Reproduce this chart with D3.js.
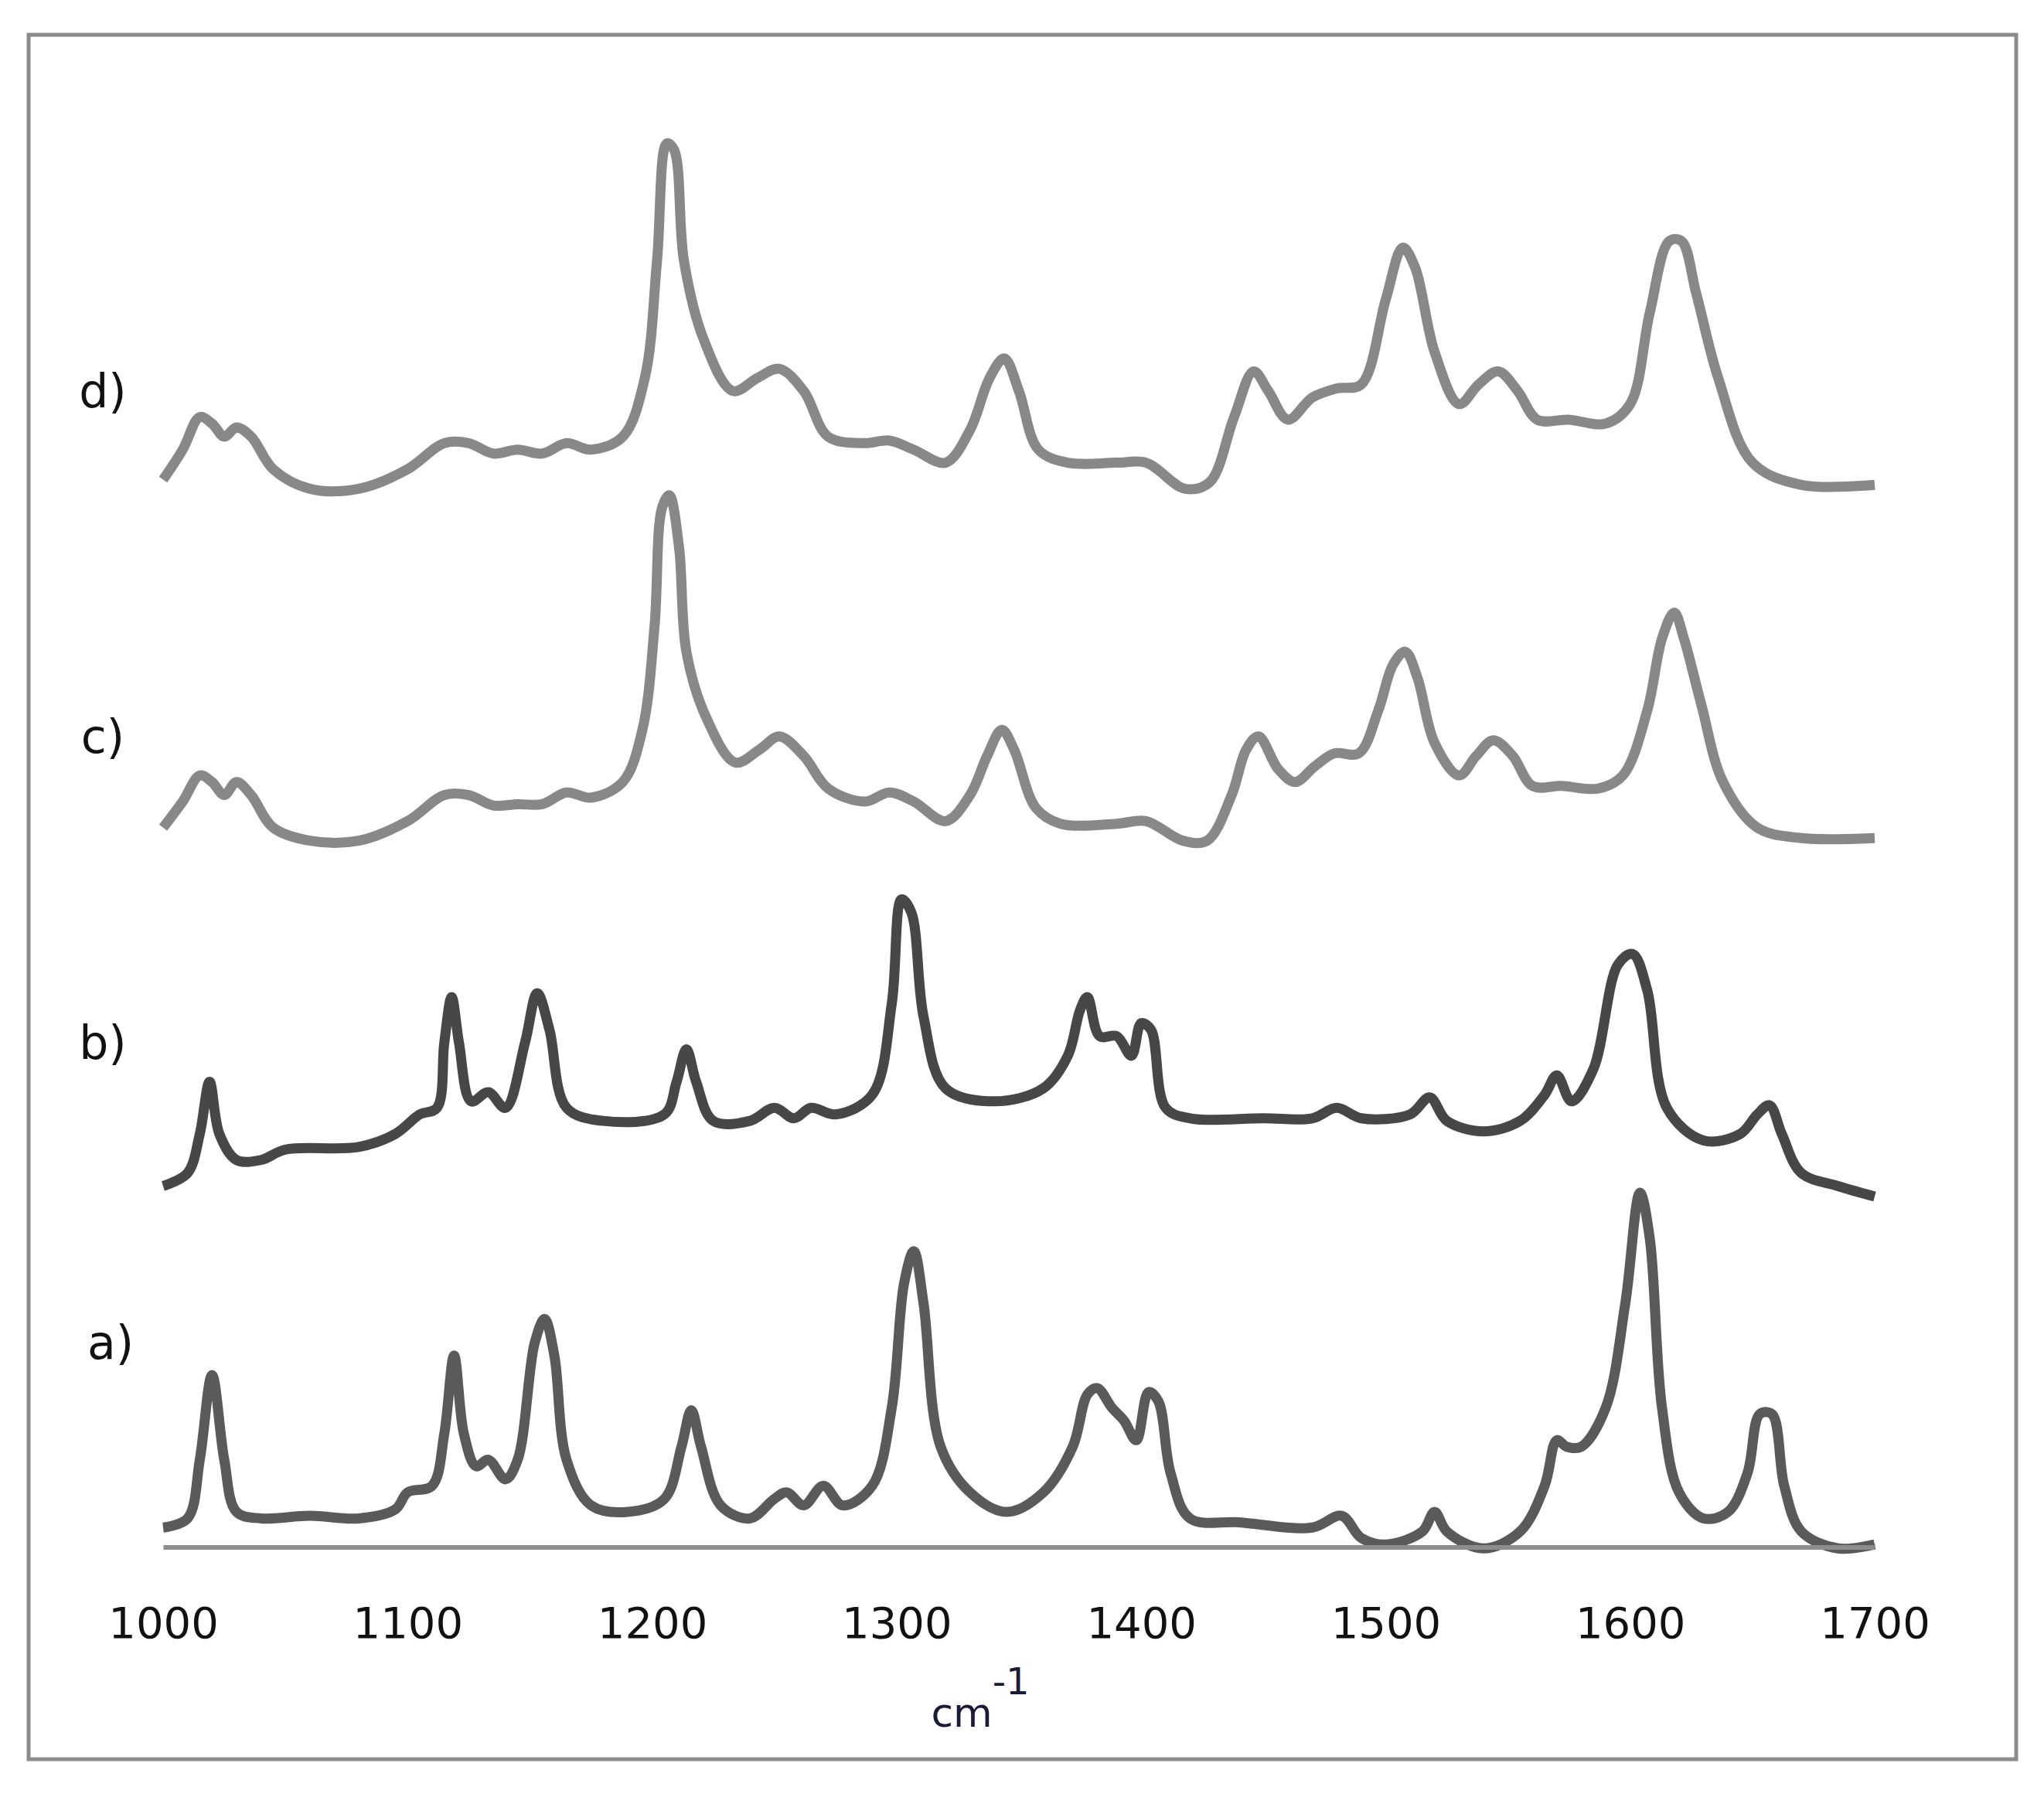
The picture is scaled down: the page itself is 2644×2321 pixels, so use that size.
<!DOCTYPE html>
<html>
<head>
<meta charset="utf-8">
<script src="https://cdn.jsdelivr.net/npm/d3@7"></script>
<style>
  body { margin: 0; background: #fff; }
  svg text { font-family: "DejaVu Sans", sans-serif; }
</style>
</head>
<body>
<svg id="chart" width="2644" height="2321"></svg>
<script>
// readings: [wavenumber, vertical position, 0 = top]
const specA = [[1000,1172],[1010,1165],[1015,1120],[1020,1055],[1025,1120],[1030,1160],[1040,1165],[1060,1163],[1080,1165],[1095,1158],[1100,1145],[1110,1140],[1115,1100],[1119,1040],[1123,1100],[1128,1125],[1133,1120],[1140,1135],[1145,1120],[1152,1030],[1156,1012],[1160,1040],[1165,1120],[1175,1155],[1190,1160],[1205,1150],[1212,1110],[1216,1082],[1220,1110],[1228,1155],[1240,1165],[1250,1150],[1255,1145],[1262,1155],[1270,1140],[1278,1155],[1290,1140],[1298,1080],[1303,985],[1307,960],[1311,1000],[1318,1110],[1330,1145],[1345,1160],[1360,1145],[1372,1110],[1378,1070],[1382,1065],[1388,1080],[1393,1090],[1398,1105],[1403,1068],[1407,1075],[1412,1130],[1420,1165],[1440,1168],[1470,1172],[1482,1163],[1490,1180],[1500,1185],[1515,1175],[1520,1160],[1525,1175],[1540,1188],[1555,1175],[1565,1140],[1570,1105],[1574,1110],[1580,1110],[1590,1080],[1598,1000],[1604,915],[1608,950],[1613,1080],[1620,1145],[1630,1165],[1640,1160],[1648,1130],[1653,1085],[1658,1085],[1663,1140],[1670,1175],[1685,1188],[1700,1185]];
const specB = [[1000,910],[1010,900],[1015,870],[1019,830],[1023,870],[1030,890],[1040,890],[1050,882],[1080,880],[1095,870],[1105,855],[1112,850],[1115,800],[1118,765],[1121,800],[1126,845],[1133,838],[1140,850],[1148,800],[1153,762],[1158,790],[1165,850],[1180,860],[1205,855],[1210,830],[1214,805],[1218,830],[1225,860],[1240,860],[1250,850],[1258,858],[1265,850],[1275,855],[1290,840],[1298,770],[1302,690],[1306,700],[1311,780],[1320,835],[1340,845],[1360,835],[1370,810],[1375,775],[1378,765],[1383,795],[1390,795],[1396,810],[1400,785],[1404,790],[1410,850],[1420,858],[1450,858],[1470,858],[1480,850],[1490,858],[1510,855],[1518,842],[1525,860],[1540,868],[1555,860],[1565,840],[1570,825],[1576,845],[1585,820],[1595,740],[1601,732],[1607,760],[1615,850],[1630,875],[1645,870],[1652,855],[1657,848],[1662,870],[1670,900],[1685,910],[1700,918]];
const specC = [[1000,635],[1008,615],[1015,595],[1020,600],[1025,610],[1030,600],[1036,610],[1045,635],[1060,645],[1080,645],[1100,630],[1115,610],[1125,610],[1135,618],[1145,617],[1155,617],[1165,608],[1175,612],[1188,600],[1196,560],[1201,480],[1204,390],[1207,380],[1211,420],[1214,500],[1222,550],[1234,585],[1244,575],[1252,565],[1262,580],[1272,605],[1287,615],[1297,608],[1307,615],[1320,630],[1330,610],[1337,580],[1343,560],[1348,575],[1357,620],[1367,632],[1390,632],[1402,630],[1417,645],[1427,645],[1437,610],[1443,575],[1448,565],[1456,590],[1463,600],[1471,588],[1479,578],[1489,578],[1497,545],[1503,510],[1508,500],[1513,520],[1520,570],[1530,595],[1537,580],[1544,568],[1552,580],[1560,603],[1572,603],[1587,605],[1597,595],[1607,545],[1613,490],[1618,470],[1622,490],[1629,540],[1638,600],[1652,635],[1670,643],[1700,643]];
const specD = [[1000,368],[1008,345],[1015,320],[1020,325],[1025,335],[1030,328],[1036,335],[1045,360],[1060,375],[1080,375],[1100,360],[1115,340],[1125,340],[1135,348],[1145,345],[1155,348],[1165,340],[1175,345],[1188,335],[1197,290],[1202,200],[1206,110],[1209,115],[1213,200],[1221,260],[1233,300],[1243,290],[1252,283],[1262,300],[1272,335],[1287,340],[1297,338],[1307,345],[1320,355],[1330,330],[1338,290],[1344,275],[1350,300],[1358,345],[1370,355],[1390,355],[1402,355],[1418,375],[1428,370],[1438,320],[1446,285],[1452,300],[1460,322],[1470,305],[1480,298],[1490,295],[1500,230],[1507,190],[1512,205],[1520,270],[1530,310],[1538,295],[1546,285],[1554,300],[1562,322],[1575,322],[1590,325],[1600,310],[1608,240],[1616,185],[1621,185],[1627,225],[1636,290],[1650,355],[1670,372],[1700,372]];

const seriesNames = ["a)", "b)", "c)", "d)"];
const seriesData = [specA, specB, specC, specD];
const seriesColors = ["#5a5a5a", "#474747", "#888888", "#888888"];
const labelPos = [1030, 800, 565, 300]; // label heights, same units as readings
const xTicks = [1000, 1100, 1200, 1300, 1400, 1500, 1600, 1700];

const svg = d3.select("#chart");
const x = d3.scaleLinear().domain([1000, 1700]).range([211, 2425]);
const y = d3.scaleLinear().domain([0, 1380]).range([0, 2327]);

// outer frame
svg.append("rect")
    .attr("x", 37).attr("y", 45)
    .attr("width", 2571).attr("height", 2231)
    .attr("fill", "none").attr("stroke", "#8c8c8c").attr("stroke-width", 5);

const line = d3.line()
    .x(d => x(d[0]))
    .y(d => y(d[1]))
    .curve(d3.curveCatmullRom.alpha(0.5));

svg.selectAll("path.spec")
    .data(seriesData)
    .join("path")
    .attr("class", "spec")
    .attr("d", line)
    .attr("fill", "none")
    .attr("stroke", (d, i) => seriesColors[i])
    .attr("stroke-width", 13)
    .attr("stroke-linejoin", "round");

svg.selectAll("text.lbl")
    .data(seriesNames)
    .join("text")
    .attr("class", "lbl")
    .attr("x", (d, i) => i === 0 ? 143 : 133)
    .attr("y", (d, i) => y(labelPos[i]))
    .attr("dy", "0.35em")
    .attr("text-anchor", "middle")
    .attr("font-size", 60)
    .attr("fill", "#111")
    .text(d => d);

const axis = svg.append("g")
    .attr("transform", `translate(0,${y(1187)})`)
    .call(d3.axisBottom(x).tickValues(xTicks).tickSize(0).tickPadding(78).tickFormat(d3.format("d")));
axis.select(".domain").attr("stroke", "#8c8c8c").attr("stroke-width", 6);
axis.selectAll("text").attr("font-size", 56).attr("fill", "#111")
    .style("font-family", "'DejaVu Sans', sans-serif");

const unit = svg.append("text")
    .attr("x", x(1350) - 50).attr("y", y(1325))
    .attr("text-anchor", "middle")
    .attr("font-size", 52).attr("fill", "#1a1a3a");
unit.append("tspan").text("cm");
unit.append("tspan").attr("dy", -42).attr("font-size", 48).text("-1");
</script>
</body>
</html>
